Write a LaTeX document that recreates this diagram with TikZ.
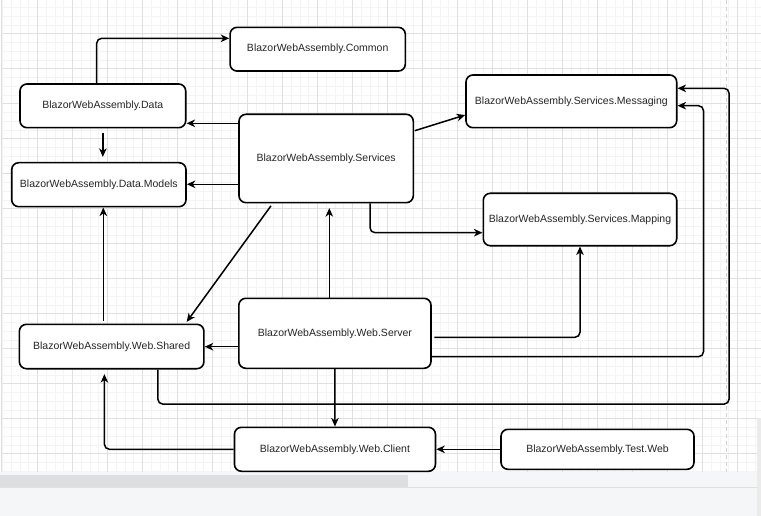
\documentclass[tikz,border=0pt]{standalone}
\usepackage{fontspec}
\setmainfont{Liberation Sans}
\usetikzlibrary{arrows.meta}
\definecolor{minorgrid}{HTML}{F4F4F4}
\definecolor{majorgrid}{HTML}{E0E0E0}
\definecolor{pagebreak}{HTML}{D2D2D2}
\definecolor{lowbar}{HTML}{F5F6F7}
\definecolor{thumb}{HTML}{DDDEE0}
\tikzset{
  box/.style={draw=black, rounded corners=7pt, line width=1.6pt, fill=white,
    inner sep=0pt, font=\fontsize{10.5}{12}\selectfont, text=black!85},
  arr/.style={draw=black, line width=1.5pt, rounded corners=5pt,
    -{Stealth[length=8.5pt,width=7.5pt,inset=2.5pt]}},
}
\begin{document}
\begin{tikzpicture}[x=1pt,y=-1pt]
\useasboundingbox (0,0) rectangle (761,516);
\fill[white] (0,0) rectangle (761,516);
% grid
\begin{scope}
\clip (2.5,0) rectangle (761,471.7);
\foreach \i in {0,...,87} {
  \draw[minorgrid, line width=0.6pt] ({2.3+8.75*\i},0) -- ({2.3+8.75*\i},472);
}
\foreach \j in {-4,...,54} {
  \draw[minorgrid, line width=0.6pt] (0,{33.7+8.75*\j}) -- (761,{33.7+8.75*\j});
}
\foreach \i in {0,...,21} {
  \draw[majorgrid, line width=0.8pt] ({2.3+35*\i},0) -- ({2.3+35*\i},472);
}
\foreach \j in {-1,...,13} {
  \draw[majorgrid, line width=0.8pt] (0,{33.7+35*\j}) -- (761,{33.7+35*\j});
}
\draw[pagebreak, line width=1.2pt, dash pattern=on 4pt off 3pt] (726.3,0) -- (726.3,472);
\end{scope}
\draw[majorgrid, line width=1pt] (1.2,0) -- (1.2,471.7);
% bottom / right chrome
\fill[lowbar] (0,471.7) rectangle (761,516);
\fill[thumb] (0,475) rectangle (408,486.5);
\draw[black!12, line width=0.8pt] (0,487.3) -- (761,487.3);
\fill[black!8] (757,418) rectangle (761,516);

% nodes
\node[box, minimum width=175.3pt, minimum height=43.7pt] (common) at (317.7,49.2) {BlazorWebAssembly.Common};
\node[box, minimum width=165.7pt, minimum height=43.7pt] (data) at (102.85,105.85) {BlazorWebAssembly.Data};
\node[box, minimum width=174.3pt, minimum height=44pt] (models) at (98.85,184.7) {BlazorWebAssembly.Data.Models};
\node[box, minimum width=174.3pt, minimum height=88.4pt] (services) at (326.15,158.5) {BlazorWebAssembly.Services};
\node[box, minimum width=210.7pt, minimum height=52.7pt] (messaging) at (571.35,101.35) {BlazorWebAssembly.Services.Messaging};
\node[box, minimum width=193.4pt, minimum height=52.4pt] (mapping) at (580,219.5) {BlazorWebAssembly.Services.Mapping};
\node[box, minimum width=184.5pt, minimum height=44.4pt] (shared) at (111.65,346.5) {BlazorWebAssembly.Web.Shared};
\node[box, minimum width=192.2pt, minimum height=70pt] (server) at (334.9,333.3) {BlazorWebAssembly.Web.Server};
\node[box, minimum width=201pt, minimum height=44pt] (client) at (334.95,449.3) {BlazorWebAssembly.Web.Client};
\node[box, minimum width=193pt, minimum height=40pt] (testweb) at (597.5,449.3) {BlazorWebAssembly.Test.Web};

% helper coordinates
\coordinate (dataTop) at ([xshift=-6.15pt]data.north);
\coordinate (commonIn) at ([yshift=10.9pt]common.west);
\coordinate (dataOut) at ([yshift=-4.6pt]data.south);
\coordinate (modelsIn) at ([yshift=5pt]models.north);
\coordinate (svcToData) at ([yshift=35.2pt]services.west);
\coordinate (svcToModels) at ([yshift=-25.8pt]services.west);
\coordinate (svcToMsg) at ([xshift=0.7pt,yshift=27.8pt]services.east);
\coordinate (msgIn) at ([yshift=-13.65pt]messaging.west);
\coordinate (svcToMap) at ([xshift=43.85pt]services.south);
\coordinate (mapIn) at ([yshift=-13.2pt]mapping.west);
\coordinate (svcDiag) at ([xshift=-55.15pt,yshift=-2.3pt]services.south);
\coordinate (sharedIn) at ([xshift=75.05pt,yshift=1.6pt]shared.north);
\coordinate (srvUp) at ([xshift=-5.6pt]server.north);
\coordinate (svcIn) at ([yshift=-4.6pt]services.south);
\coordinate (sharedUp) at ([xshift=-8.35pt,yshift=2.3pt]shared.north);
\coordinate (srvToShared) at ([yshift=-13.4pt]server.west);
\coordinate (srvToMap) at ([xshift=2.5pt,yshift=-4pt]server.east);
\coordinate (srvToMsg) at ([yshift=-23.4pt]server.east);
\coordinate (msgInLow) at ([yshift=-4.35pt]messaging.east);
\coordinate (rightA) at ([xshift=26pt,yshift=-4.35pt]messaging.east);
\coordinate (sharedDown) at ([xshift=46.15pt]shared.south);
\coordinate (bottomRun) at ([xshift=46.15pt,yshift=-34.6pt]shared.south);
\coordinate (rightB) at ([xshift=51.6pt,yshift=13.05pt]messaging.east);
\coordinate (msgInHigh) at ([yshift=13.05pt]messaging.east);
\coordinate (sharedBottomIn) at ([xshift=-7.25pt,yshift=-4.6pt]shared.south);

% connectors
\draw[arr] (dataTop) |- (commonIn);
\draw[arr] (dataOut) -- (dataOut |- modelsIn);
\draw[arr] (svcToData) -- (svcToData -| data.east);
\draw[arr] (svcToModels) -- (svcToModels -| models.east);
\draw[arr] (svcToMsg) -- (msgIn);
\draw[arr] (svcToMap) |- (mapIn);
\draw[arr] (svcDiag) -- (sharedIn);
\draw[arr] (srvUp) -- (srvUp |- svcIn);
\draw[arr] (sharedUp) -- (sharedUp |- models.south);
\draw[arr] (srvToShared) -- (srvToShared -| shared.east);
\draw[arr] (srvToMap) -| (mapping.south);
\draw[arr] (srvToMsg) -| (rightA) -- (msgInLow);
\draw[arr] (sharedDown) -- (bottomRun) -| (rightB) -- (msgInHigh);
\draw[arr] (server.south) -- (client.north);
\draw[arr] (client.west) -| (sharedBottomIn);
\draw[arr] (testweb.west) -- (client.east);
\end{tikzpicture}
\end{document}
